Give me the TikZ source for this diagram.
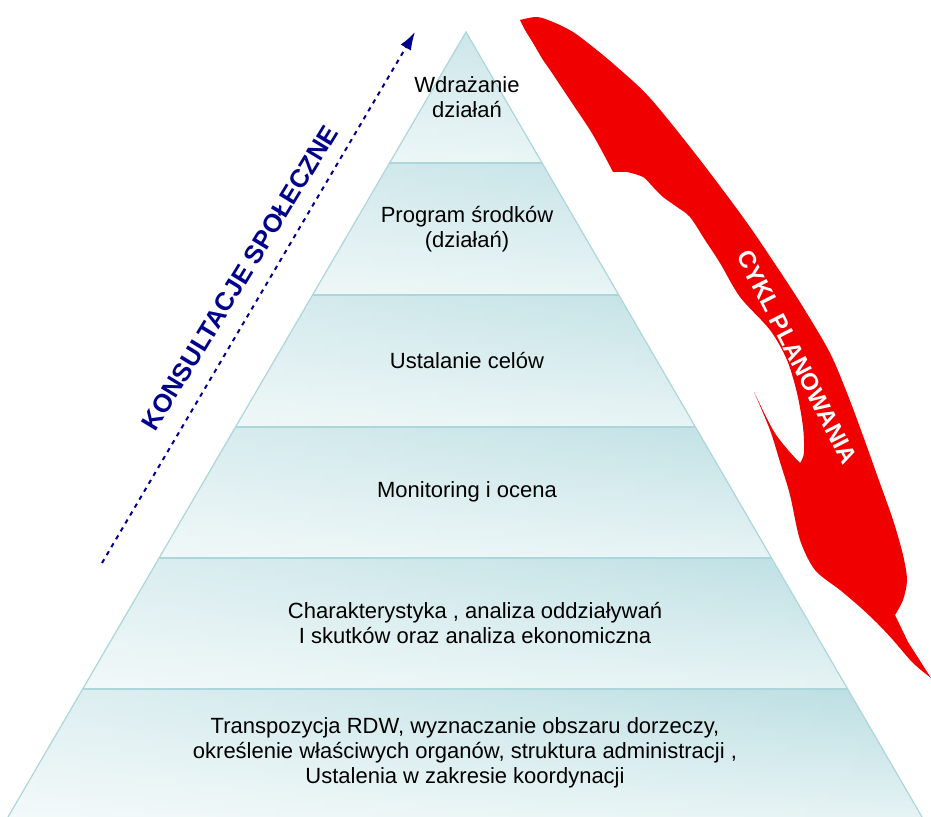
\documentclass[tikz,border=0pt]{standalone}
\usepackage{fontspec}
\setmainfont{Liberation Sans}
\usetikzlibrary{arrows.meta, fadings}

\definecolor{bandtop}{RGB}{186,222,226}
\definecolor{bandbot}{RGB}{229,243,244}
\definecolor{bandline}{RGB}{172,214,219}
\definecolor{konsblue}{RGB}{0,0,140}
\definecolor{planred}{RGB}{241,0,0}

\tikzfading[name=fadeleft, left color=transparent!0, right color=transparent!100]

\tikzset{
  bandtext/.style={align=center, font=\fontsize{11}{12.4}\selectfont},
  konsarrow/.style={konsblue, line width=1pt, dash pattern=on 2.2pt off 2.4pt,
    -{Latex[length=9pt, width=6pt]}},
  konstext/.style={konsblue, font=\fontsize{12.8}{14}\selectfont\bfseries},
  plantext/.style={white, font=\fontsize{12}{14}\selectfont\bfseries}
}

\begin{document}
\begin{tikzpicture}[x=0.5pt, y=-0.5pt]
  \useasboundingbox (0,0) rectangle (931,817);
  \coordinate (A) at (466,32);
  \coordinate (L) at (8,817);
  \coordinate (R) at (922,817);

  % pyramid bands
  \begin{scope}
    \clip (A) -- (L) -- (R) -- cycle;
    \foreach \ya/\yb in {32/163, 163/295, 295/427, 427/558, 558/689, 689/817}
      {\shade[top color=bandtop, bottom color=bandbot] (0,\ya) rectangle (931,\yb);}
    \fill[white, opacity=0.55, path fading=fadeleft] (0,32) rectangle (931,817);
    \foreach \y in {163, 295, 427, 558, 689}
      {\draw[bandline, line width=1pt] (0,\y) -- (931,\y);}
  \end{scope}
  \draw[bandline, line width=0.6pt] (L) -- (A) -- (R);

  \node[bandtext] (t1) at (467,97) {Wdrażanie\\działań};
  \node[bandtext] (t2) at (467,229) {Program środków\\(działań)};
  \node[bandtext] (t3) at (467,361) {Ustalanie celów};
  \node[bandtext] (t4) at (467,492) {Monitoring i ocena};
  \node[bandtext] (t5) at (475,623) {Charakterystyka , analiza oddziaływań\\I skutków oraz analiza ekonomiczna};
  \node[bandtext] (t6) at (465,753) {Transpozycja RDW, wyznaczanie obszaru dorzeczy,\\określenie właściwych organów, struktura administracji ,\\Ustalenia w zakresie koordynacji};

  % consultation arrow
  \coordinate (K0) at (102,563);
  \coordinate (K1) at (415,32);
  \draw[konsarrow] (K0) -- (K1);
  \node[konstext, rotate=58.6] (kons) at (240,278) {KONSULTACJE SPOŁECZNE};

  % planning cycle arrow
  \fill[planred]
    plot[smooth] coordinates {(520,20) (537,17) (553,22) (573,32) (593,47) (617,67)
      (650,98) (697,156) (745,220) (777,267) (803,307) (830,353) (847,393)
      (862,433) (877,475) (893,520) (903,555) (907,580) (903,600) (895,615)}
    -- (908,642) -- (931,678)
    -- plot[smooth] coordinates {(931,678) (913,663) (893,640) (877,623) (860,607)
      (840,590) (815,570) (800,540) (790,495) (780,462) (770,430) (754,392)}
    -- plot[smooth] coordinates {(754,392) (773,430) (788,450) (800,463)}
    -- plot[smooth] coordinates {(800,463) (804,453) (803,427) (797,393) (787,360)
      (770,330) (740,297) (720,263) (705,240) (690,217) (677,207) (663,197)
      (653,187) (643,177) (627,172)}
    -- (613,172)
    -- plot[smooth] coordinates {(613,172) (603,153) (590,130) (570,100) (550,70)
      (543,60) (533,43) (525,30) (520,20)}
    -- cycle;
  \node[plantext, rotate=-63] (plan) at (797,357) {CYKL PLANOWANIA};
\end{tikzpicture}
\end{document}
